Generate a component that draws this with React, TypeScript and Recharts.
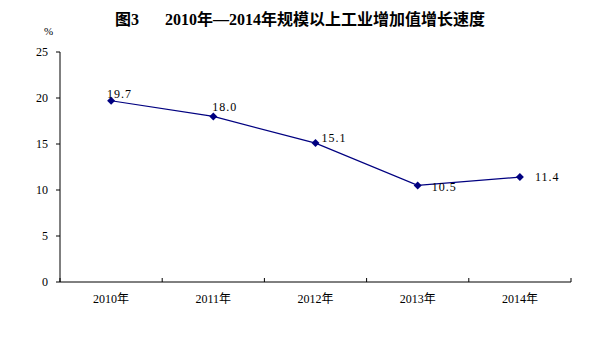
import { LineChart, Line, XAxis, YAxis } from "recharts";

const years = ["2010年", "2011年", "2012年", "2013年", "2014年"];
const growth = [19.7, 18.0, 15.1, 10.5, 11.4];
const yTicks = [0, 5, 10, 15, 20, 25];

const data = years.map((year, i) => ({ year, value: growth[i] }));

const W = 606;
const H = 355;
const MARGIN = { top: 52, right: 35, left: 0, bottom: 43 };
const Y_AXIS_W = 60;
const X_TICK_MARGIN = 12;
const bandWidth = (W - MARGIN.left - MARGIN.right - Y_AXIS_W) / years.length;

// label placement relative to each point (dx, dy)
const labelOffsets = [
  [-4, -7],
  [-1, -9],
  [6, -5],
  [14, 2],
  [15, 0],
];

const NAVY = "#000080";
const serif = '"Liberation Serif", "Noto Sans CJK SC", serif';

const Diamond = (props: any) => {
  const { cx, cy, index } = props;
  if (cx == null || cy == null) return null;
  const r = 4;
  return (
    <polygon
      key={`d-${index}`}
      points={`${cx},${cy - r} ${cx + r},${cy} ${cx},${cy + r} ${cx - r},${cy}`}
      fill={NAVY}
    />
  );
};

const PointLabel = (props: any) => {
  const { x, y, value, index } = props;
  const [dx, dy] = labelOffsets[index] || [0, -8];
  return (
    <text
      x={x + dx}
      y={y + dy}
      textAnchor="start"
      dominantBaseline="central"
      fontSize={12}
      fontFamily={serif}
      letterSpacing={1}
      fill="#000"
    >
      {Number(value).toFixed(1)}
    </text>
  );
};

// category label plus tick marks on the band boundaries, pointing up
const YearTick = (props: any) => {
  const { x, y, payload, index } = props;
  const axisY = y - X_TICK_MARGIN;
  const left = x - bandWidth / 2;
  const right = x + bandWidth / 2;
  return (
    <g>
      <line x1={left} x2={left} y1={axisY} y2={axisY - 4} stroke="#000" />
      {index === years.length - 1 && (
        <line x1={right} x2={right} y1={axisY} y2={axisY - 4} stroke="#000" />
      )}
      <text
        x={x}
        y={y}
        dy="0.71em"
        textAnchor="middle"
        fontSize={12}
        fontFamily={serif}
        fill="#000"
      >
        {payload.value}
      </text>
    </g>
  );
};

export default function App() {
  return (
    <div
      style={{
        position: "absolute",
        left: 0,
        top: 0,
        width: W,
        height: H,
        background: "#fff",
      }}
    >
      <div
        style={{
          position: "absolute",
          top: 12,
          left: 115,
          fontFamily: serif,
          fontWeight: "bold",
          fontSize: 16,
          lineHeight: "16px",
          whiteSpace: "nowrap",
        }}
      >
        图3
      </div>
      <div
        style={{
          position: "absolute",
          top: 12,
          left: 165,
          fontFamily: serif,
          fontWeight: "bold",
          fontSize: 16,
          lineHeight: "16px",
          whiteSpace: "nowrap",
        }}
      >
        2010年—2014年规模以上工业增加值增长速度
      </div>
      <div
        style={{
          position: "absolute",
          top: 25,
          left: 44,
          fontFamily: serif,
          fontSize: 11,
          lineHeight: "12px",
        }}
      >
        %
      </div>
      <LineChart width={W} height={H} data={data} margin={MARGIN}>
        <YAxis
          type="number"
          domain={[0, 25]}
          ticks={yTicks}
          interval={0}
          width={Y_AXIS_W}
          tickSize={4}
          tickMargin={8}
          axisLine={{ stroke: "#000" }}
          tickLine={{ stroke: "#000" }}
          tick={{ fontSize: 12, fill: "#000", fontFamily: serif }}
        />
        <XAxis
          dataKey="year"
          scale="band"
          interval={0}
          height={30}
          axisLine={{ stroke: "#000" }}
          tickLine={false}
          tickSize={0}
          tickMargin={X_TICK_MARGIN}
          tick={YearTick}
        />
        <Line
          type="linear"
          dataKey="value"
          stroke={NAVY}
          strokeWidth={1.2}
          dot={Diamond}
          activeDot={false}
          label={PointLabel}
          isAnimationActive={false}
        />
      </LineChart>
    </div>
  );
}
